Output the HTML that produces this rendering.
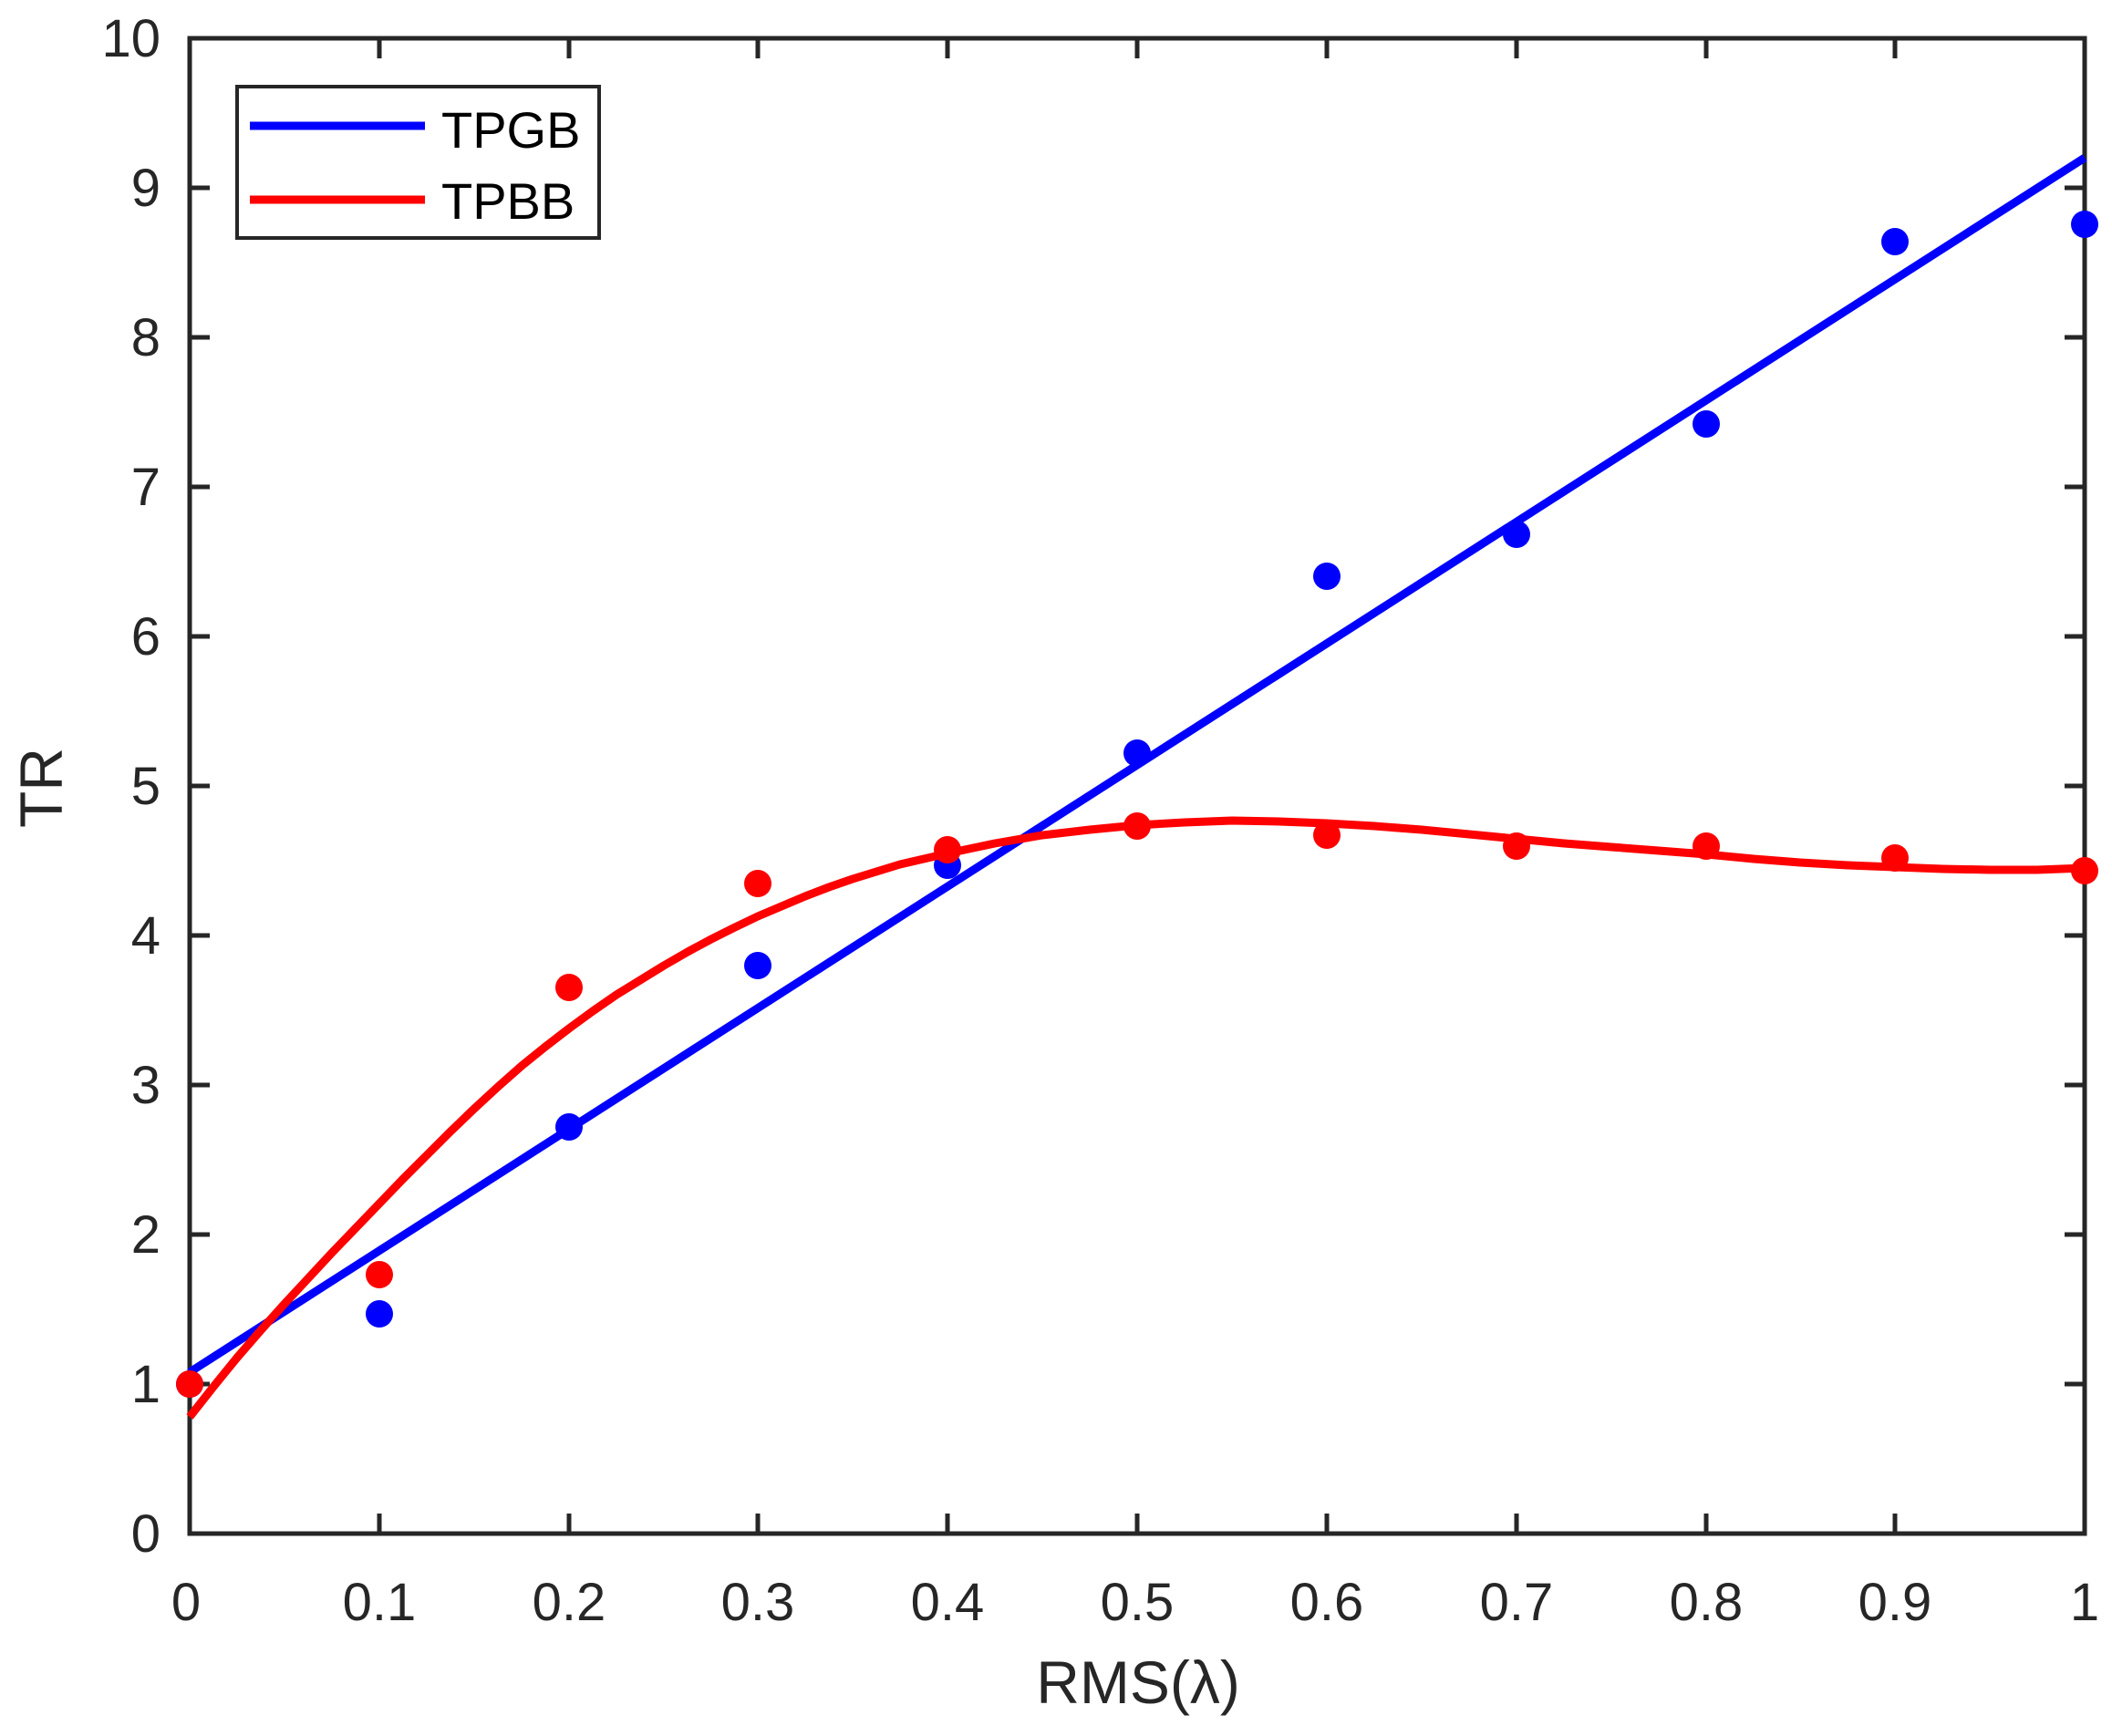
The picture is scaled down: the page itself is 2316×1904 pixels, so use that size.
<!DOCTYPE html>
<html><head><meta charset="utf-8"><style>
html,body{margin:0;padding:0;background:#fff;}
svg{display:block;font-family:"Liberation Sans",Arial,sans-serif;}
</style></head><body>
<svg width="2316" height="1904" viewBox="0 0 2316 1904" xmlns="http://www.w3.org/2000/svg">
<rect width="2316" height="1904" fill="#fff"/>
<g stroke="#262626" stroke-width="5">
<rect x="208" y="42" width="2078" height="1640" fill="none"/>
<path d="M416 1682v-22M624 1682v-22M831 1682v-22M1039 1682v-22M1247 1682v-22M1455 1682v-22M1663 1682v-22M1871 1682v-22M2078 1682v-22
M416 42v22M624 42v22M831 42v22M1039 42v22M1247 42v22M1455 42v22M1663 42v22M1871 42v22M2078 42v22
M208 1518h22M208 1354h22M208 1190h22M208 1026h22M208 862h22M208 698h22M208 534h22M208 370h22M208 206h22
M2286 1518h-22M2286 1354h-22M2286 1190h-22M2286 1026h-22M2286 862h-22M2286 698h-22M2286 534h-22M2286 370h-22M2286 206h-22"/>
</g>
<g font-size="58" fill="#262626" text-anchor="end">
<text x="176" y="1702">0</text><text x="176" y="1538">1</text><text x="176" y="1374">2</text><text x="176" y="1210">3</text><text x="176" y="1046">4</text><text x="176" y="882">5</text><text x="176" y="718">6</text><text x="176" y="554">7</text><text x="176" y="390">8</text><text x="176" y="226">9</text><text x="176" y="62">10</text>
</g>
<g font-size="58" fill="#262626" text-anchor="middle">
<text x="204" y="1777">0</text><text x="416" y="1777">0.1</text><text x="624" y="1777">0.2</text><text x="831" y="1777">0.3</text><text x="1039" y="1777">0.4</text><text x="1247" y="1777">0.5</text><text x="1455" y="1777">0.6</text><text x="1663" y="1777">0.7</text><text x="1871" y="1777">0.8</text><text x="2078" y="1777">0.9</text><text x="2286" y="1777">1</text>
</g>
<text x="1248" y="1868" font-size="66" fill="#262626" text-anchor="middle">RMS(λ)</text>
<text transform="translate(68,864) rotate(-90)" font-size="66" fill="#262626" text-anchor="middle">TR</text>
<line x1="208" y1="1505" x2="2286" y2="173" stroke="#0000ff" stroke-width="9"/>
<g fill="#0000ff">
<circle cx="208" cy="1518" r="15"/><circle cx="416" cy="1441" r="15"/><circle cx="624" cy="1236" r="15"/><circle cx="831" cy="1059" r="15"/><circle cx="1039" cy="949" r="15"/><circle cx="1247" cy="826" r="15"/><circle cx="1455" cy="632" r="15"/><circle cx="1663" cy="586" r="15"/><circle cx="1871" cy="465" r="15"/><circle cx="2078" cy="265" r="15"/><circle cx="2286" cy="246" r="15"/>
</g>
<polyline fill="none" stroke="#ff0000" stroke-width="9" stroke-linejoin="round" points="208,1554 234,1521 260,1489 286,1459 312,1430 338,1402 364,1374 390,1347 416,1320 442,1293 468,1267 494,1241 520,1216 546,1192 572,1169 598,1148 624,1128 650,1109 676,1091 702,1075 728,1059 754,1044 780,1030 806,1017 831,1005 857,994 883,983 909,973 935,964 961,956 987,948 1013,942 1039,936 1091,925 1143,916 1195,910 1247,905 1299,902 1351,900 1403,901 1455,903 1507,906 1559,910 1611,915 1663,920 1715,925 1767,929 1819,933 1871,937 1923,942 1974,946 2026,949 2078,951 2130,953 2182,954 2234,954 2286,952"/>
<g fill="#ff0000">
<circle cx="208" cy="1518" r="15"/><circle cx="416" cy="1398" r="15"/><circle cx="624" cy="1083" r="15"/><circle cx="831" cy="969" r="15"/><circle cx="1039" cy="932" r="15"/><circle cx="1247" cy="906" r="15"/><circle cx="1455" cy="916" r="15"/><circle cx="1663" cy="928" r="15"/><circle cx="1871" cy="928" r="15"/><circle cx="2078" cy="941" r="15"/><circle cx="2286" cy="955" r="15"/>
</g>
<rect x="260" y="95" width="397" height="166" fill="#fff" stroke="#262626" stroke-width="4"/>
<line x1="274" y1="138" x2="466" y2="138" stroke="#0000ff" stroke-width="9"/>
<line x1="274" y1="219" x2="466" y2="219" stroke="#ff0000" stroke-width="9"/>
<text x="484" y="162" font-size="56" fill="#000">TPGB</text>
<text x="484" y="240" font-size="56" fill="#000">TPBB</text>
</svg>
</body></html>
